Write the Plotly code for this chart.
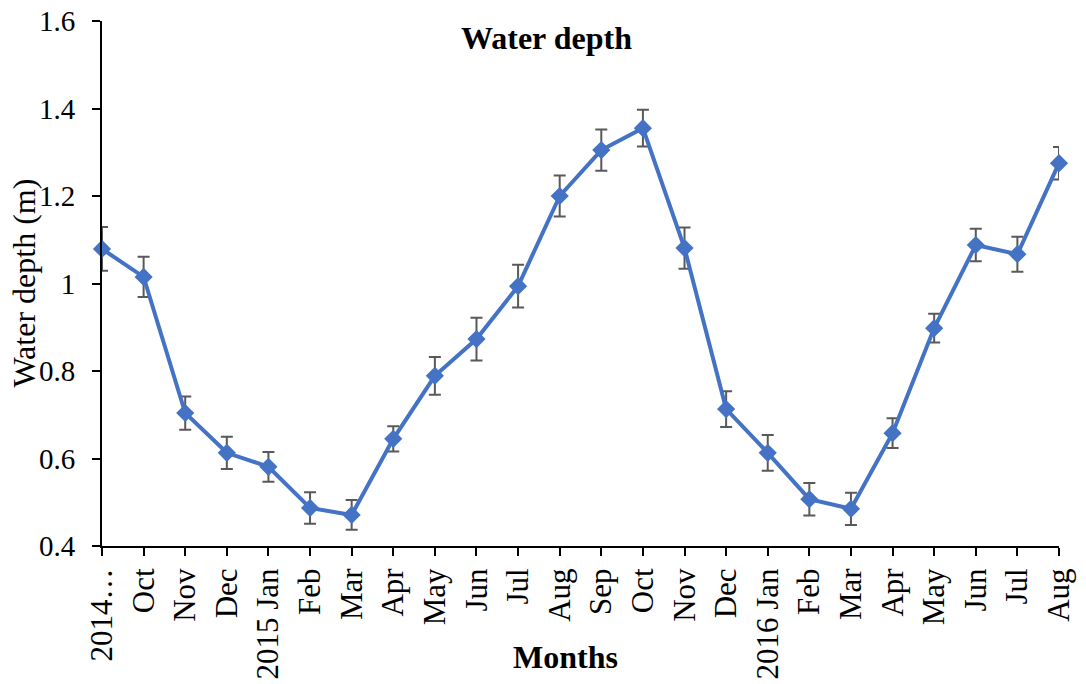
import plotly.graph_objects as go

tick_labels = ["2014…", "Oct", "Nov", "Dec", "2015 Jan", "Feb", "Mar", "Apr", "May", "Jun", "Jul", "Aug",
               "Sep", "Oct", "Nov", "Dec", "2016 Jan", "Feb", "Mar", "Apr", "May", "Jun", "Jul", "Aug"]
depth = [1.079, 1.015, 0.704, 0.613, 0.581, 0.487, 0.471, 0.645, 0.789, 0.873, 0.994, 1.200,
         1.305, 1.355, 1.081, 0.713, 0.613, 0.507, 0.485, 0.658, 0.898, 1.088, 1.067, 1.275]
err = [0.050, 0.046, 0.038, 0.037, 0.034, 0.036, 0.034, 0.029, 0.043, 0.049, 0.049, 0.047,
       0.047, 0.042, 0.047, 0.041, 0.041, 0.037, 0.037, 0.034, 0.033, 0.037, 0.040, 0.037]

x = list(range(len(depth)))
FONT = "Liberation Serif"

fig = go.Figure()
fig.add_trace(go.Scatter(
    x=x, y=depth, mode="lines+markers",
    line=dict(color="#4472C4", width=4),
    marker=dict(symbol="diamond", size=14, color="#4472C4"),
    error_y=dict(type="data", array=err, visible=True, color="#595959", thickness=2, width=6),
    cliponaxis=False, showlegend=False,
))

fig.update_layout(
    width=1086, height=684,
    margin=dict(l=102, r=27, t=21, b=138, autoexpand=False),
    plot_bgcolor="white", paper_bgcolor="white",
    font=dict(family=FONT, color="black"),
    xaxis=dict(
        range=[0, 23], tickmode="array", tickvals=x, ticktext=tick_labels,
        tickangle=-90, ticks="outside", ticklen=8, tickwidth=2, tickcolor="black",
        showline=True, linecolor="black", linewidth=2, showgrid=False, zeroline=False,
        automargin=False,
        tickfont=dict(family=FONT, size=31, color="black"),
    ),
    yaxis=dict(
        range=[0.4, 1.6], tickmode="array", tickvals=[0.4, 0.6, 0.8, 1.0, 1.2, 1.4, 1.6],
        ticktext=["0.4", "0.6", "0.8", "1", "1.2", "1.4", "1.6"],
        ticks="outside", ticklen=8, tickwidth=2, tickcolor="black",
        showline=True, linecolor="black", linewidth=2, showgrid=False, zeroline=False,
        automargin=False, ticklabelstandoff=11,
        tickfont=dict(family=FONT, size=29, color="black"),
    ),
    annotations=[
        dict(text="<b>Water depth</b>", x=0.464, y=0.968, xref="paper", yref="paper",
             xanchor="center", yanchor="middle",
             showarrow=False, font=dict(family=FONT, size=32, color="black")),
        dict(text="<b>Months</b>", x=0.484, y=-0.211, xref="paper", yref="paper",
             xanchor="center", yanchor="middle",
             showarrow=False, font=dict(family=FONT, size=32, color="black")),
        dict(text="Water depth (m)", x=-0.0825, y=0.50, xref="paper", yref="paper",
             xanchor="center", yanchor="middle",
             showarrow=False, textangle=-90, font=dict(family=FONT, size=32, color="black")),
    ],
)

fig.write_html("out.html", config={"displayModeBar": False},
               post_script="document.body.style.margin='0';")
